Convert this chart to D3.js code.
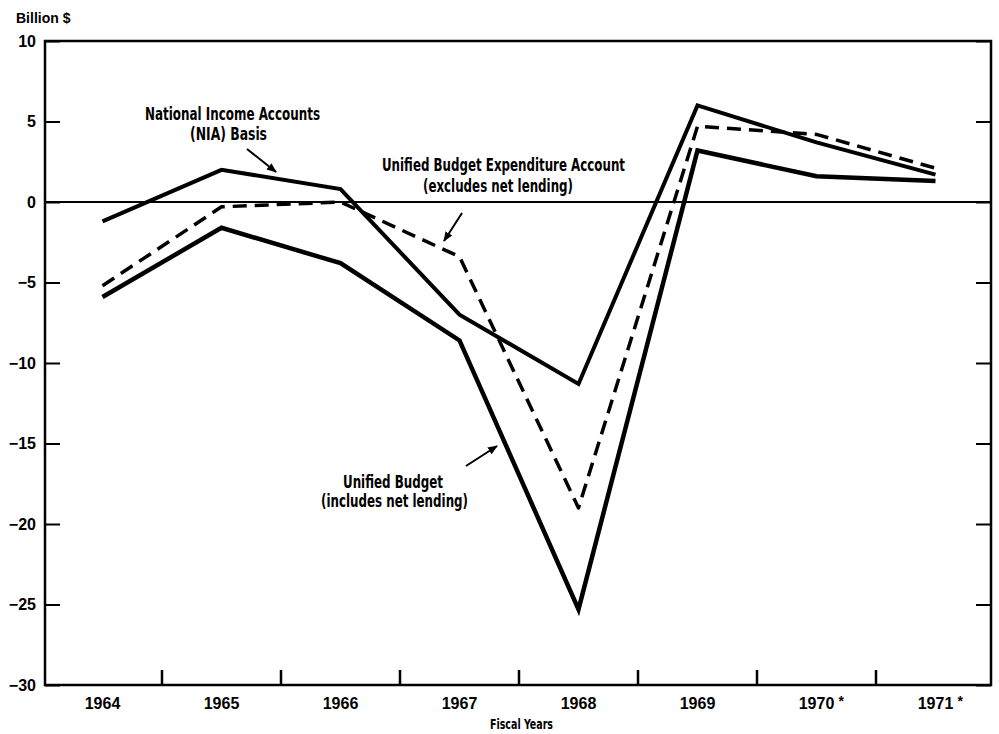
<!DOCTYPE html>
<html>
<head>
<meta charset="utf-8">
<script src="https://cdn.jsdelivr.net/npm/d3@7"></script>
<style>
  html, body { margin: 0; padding: 0; background: #fff; }
  svg { display: block; }
  .tick-label { font-family: "Liberation Sans", Arial, sans-serif; font-weight: bold; font-size: 16px; fill: #000; }
  .note { font-family: "Liberation Sans Narrow", "DejaVu Sans Condensed", sans-serif; font-weight: bold; font-size: 18px; fill: #000; }
</style>
</head>
<body>
<svg id="chart" width="999" height="734"></svg>
<script>
// Fiscal years and the three budget-balance measures (billion $)
const years = ["1964", "1965", "1966", "1967", "1968", "1969", "1970", "1971"];
const estimated = [false, false, false, false, false, false, true, true];
const niaBasis = [-1.2, 2.0, 0.8, -7.0, -11.3, 6.0, 3.7, 1.7];
const expenditureAccount = [-5.2, -0.3, 0.0, -3.4, -19.0, 4.7, 4.2, 2.1];
const unifiedBudget = [-5.9, -1.6, -3.8, -8.6, -25.3, 3.2, 1.6, 1.3];
const yTicks = [10, 5, 0, -5, -10, -15, -20, -25, -30];

const svg = d3.select("#chart");
const frame = { left: 45, right: 991, top: 41, bottom: 685 };

const x = d3.scaleBand().domain(years).range([43, 995]).padding(0);
const y = d3.scaleLinear().domain([-30, 10]).range([frame.bottom, frame.top]);
const cx = d => x(d) + x.bandwidth() / 2;

// Left axis: inward ticks with labels
const leftAxis = d3.axisLeft(y).tickValues(yTicks).tickSizeInner(-15).tickSizeOuter(0).tickPadding(9);
const gl = svg.append("g").attr("transform", `translate(${frame.left},0)`).call(leftAxis);
gl.select(".domain").remove();
gl.selectAll(".tick line").attr("stroke", "#000").attr("stroke-width", 2);
gl.selectAll(".tick text").attr("class", "tick-label").attr("font-size", null).attr("font-family", null);

// Right axis: inward ticks only
const rightAxis = d3.axisRight(y).tickValues(yTicks).tickSizeInner(-15).tickSizeOuter(0).tickFormat("");
const gr = svg.append("g").attr("transform", `translate(${frame.right},0)`).call(rightAxis);
gr.select(".domain").remove();
gr.selectAll(".tick line").attr("stroke", "#000").attr("stroke-width", 2);

// Frame
svg.append("rect")
  .attr("x", frame.left).attr("y", frame.top)
  .attr("width", frame.right - frame.left).attr("height", frame.bottom - frame.top)
  .attr("fill", "none").attr("stroke", "#000").attr("stroke-width", 2.5);

// Bottom ticks between fiscal years
svg.append("g").selectAll("line")
  .data(years.slice(1))
  .join("line")
  .attr("x1", d => x(d)).attr("x2", d => x(d))
  .attr("y1", frame.bottom).attr("y2", frame.bottom - 15)
  .attr("stroke", "#000").attr("stroke-width", 2.5);

// Year labels, asterisk marks estimates
svg.append("g").selectAll("text")
  .data(years)
  .join("text")
  .attr("class", "tick-label")
  .attr("x", d => cx(d))
  .attr("y", 709)
  .attr("text-anchor", "middle")
  .text(d => d);
svg.append("g").selectAll("text")
  .data(years.filter((d, i) => estimated[i]))
  .join("text")
  .attr("class", "tick-label")
  .attr("x", d => cx(d) + 22)
  .attr("y", 706)
  .style("font-size", "14px")
  .text("*");

// Zero line
svg.append("line")
  .attr("x1", frame.left).attr("x2", frame.right)
  .attr("y1", y(0)).attr("y2", y(0))
  .attr("stroke", "#000").attr("stroke-width", 2);

// Series lines
const line = d3.line().x((d, i) => cx(years[i])).y(d => y(d));
svg.append("path").datum(niaBasis)
  .attr("d", line).attr("fill", "none").attr("stroke", "#000")
  .attr("stroke-width", 4).attr("stroke-linejoin", "miter");
svg.append("path").datum(expenditureAccount)
  .attr("d", line).attr("fill", "none").attr("stroke", "#000")
  .attr("stroke-width", 3.5).attr("stroke-dasharray", "14,8").attr("stroke-linejoin", "round");
svg.append("path").datum(unifiedBudget)
  .attr("d", line).attr("fill", "none").attr("stroke", "#000")
  .attr("stroke-width", 4.5).attr("stroke-linejoin", "miter");

// Axis titles
svg.append("text")
  .attr("x", 16).attr("y", 23)
  .style("font-family", "'Liberation Sans', Arial, sans-serif")
  .style("font-weight", "bold").style("font-size", "14px")
  .text("Billion $");
svg.append("text")
  .attr("x", 490).attr("y", 729)
  .attr("class", "note").style("font-size", "14px")
  .attr("textLength", 63).attr("lengthAdjust", "spacingAndGlyphs")
  .text("Fiscal Years");

// Series annotations
const notes = [
  { text: "National Income Accounts", x: 145, y: 120, w: 175 },
  { text: "(NIA) Basis", x: 190, y: 140, w: 77 },
  { text: "Unified Budget Expenditure Account", x: 382, y: 171, w: 243 },
  { text: "(excludes net lending)", x: 423, y: 192, w: 150 },
  { text: "Unified Budget", x: 343, y: 488, w: 100 },
  { text: "(includes net lending)", x: 321, y: 507, w: 147 }
];
svg.append("g").selectAll("text")
  .data(notes)
  .join("text")
  .attr("class", "note")
  .attr("x", d => d.x).attr("y", d => d.y)
  .attr("textLength", d => d.w)
  .attr("lengthAdjust", "spacingAndGlyphs")
  .text(d => d.text);

// Pointer arrows
svg.append("defs").append("marker")
  .attr("id", "head").attr("viewBox", "0 0 10 10")
  .attr("refX", 9).attr("refY", 5)
  .attr("markerWidth", 5).attr("markerHeight", 5)
  .attr("orient", "auto")
  .append("path").attr("d", "M0,1 L10,5 L0,9 Z").attr("fill", "#000");
const arrows = [
  [247, 149, 276, 172],
  [462, 213, 444, 241],
  [466, 466, 497, 446]
];
svg.append("g").selectAll("line")
  .data(arrows)
  .join("line")
  .attr("x1", d => d[0]).attr("y1", d => d[1])
  .attr("x2", d => d[2]).attr("y2", d => d[3])
  .attr("stroke", "#000").attr("stroke-width", 2)
  .attr("marker-end", "url(#head)");
</script>
</body>
</html>
